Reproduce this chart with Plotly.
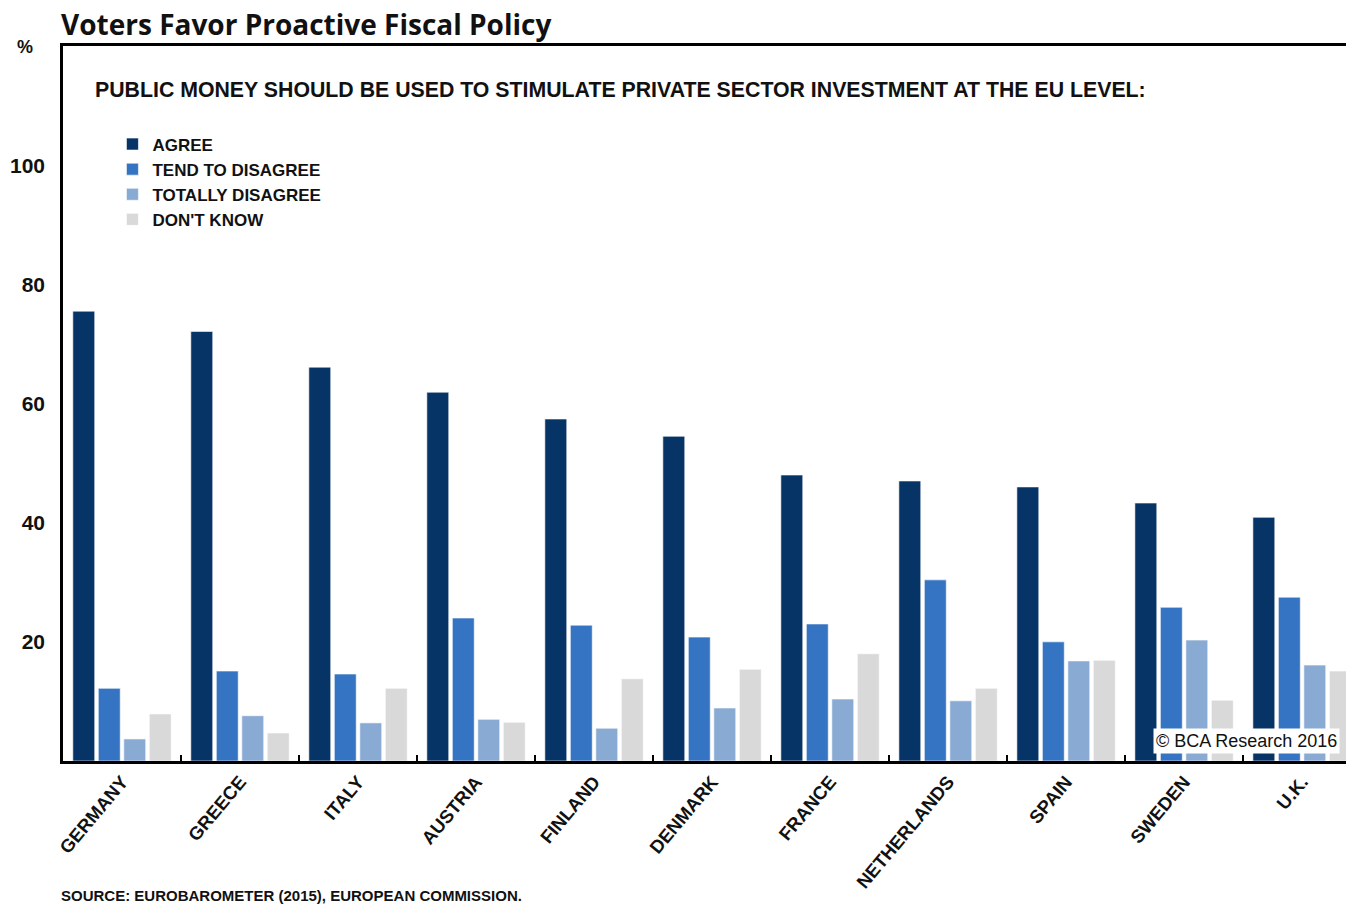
import plotly.graph_objects as go

countries = ["GERMANY", "GREECE", "ITALY", "AUSTRIA", "FINLAND", "DENMARK",
             "FRANCE", "NETHERLANDS", "SPAIN", "SWEDEN", "U.K."]
agree = [75.5, 72.1, 66.1, 61.9, 57.4, 54.5, 48.0, 47.0, 46.0, 43.3, 40.9]
tend_to_disagree = [12.2, 15.1, 14.6, 24.0, 22.8, 20.8, 23.0, 30.4, 20.0, 25.8, 27.5]
totally_disagree = [3.7, 7.6, 6.4, 7.0, 5.5, 8.9, 10.4, 10.1, 16.8, 20.3, 16.1]
dont_know = [7.9, 4.7, 12.2, 6.5, 13.8, 15.4, 18.0, 12.2, 16.9, 10.2, 15.1]

series = [
    ("AGREE", agree, "#073466"),
    ("TEND TO DISAGREE", tend_to_disagree, "#3574c2"),
    ("TOTALLY DISAGREE", totally_disagree, "#88aad3"),
    ("DON'T KNOW", dont_know, "#d9d9d9"),
]

BOLD = "Liberation Sans"

fig = go.Figure()
for name, vals, color in series:
    fig.add_trace(go.Bar(
        x=countries, y=vals, name=name,
        marker=dict(color=color, line=dict(color="rgba(255,255,255,0.6)", width=1)),
    ))

fig.update_layout(
    width=1346, height=896,
    margin=dict(l=55, r=0, t=38, b=143),
    paper_bgcolor="white", plot_bgcolor="white",
    barmode="group", bargap=0.136, bargroupgap=0.14,
    showlegend=True,
    legend=dict(
        x=0.0383, y=0.8874, xanchor="left", yanchor="top",
        font=dict(family=BOLD, size=17, color="#111111", weight="bold"),
        bgcolor="rgba(0,0,0,0)", tracegroupgap=0, itemwidth=30,
    ),
    font=dict(family=BOLD, color="#111111"),
)

fig.update_xaxes(
    type="category", range=[-0.5, 10.44],
    showline=True, linecolor="black", linewidth=2.5, mirror=True,
    ticks="inside", tickson="boundaries", ticklen=6, tickwidth=2, tickcolor="black",
    tickangle=-50,
    tickfont=dict(family=BOLD, size=18.5, color="#111111", weight="bold"),
    showgrid=False,
)
fig.update_yaxes(
    range=[0, 120], tickvals=[20, 40, 60, 80, 100],
    showline=True, linecolor="black", linewidth=2.5,
    ticks="", showgrid=False, zeroline=False,
    ticklabelstandoff=11,
    tickfont=dict(family=BOLD, size=21, color="#111111", weight="bold"),
)

fig.add_annotation(text="Voters Favor Proactive Fiscal Policy",
                   xref="paper", yref="paper", x=-0.0023, y=1.031,
                   xanchor="left", yanchor="middle", showarrow=False, borderpad=0,
                   font=dict(family="Open Sans", size=28,
                             color="#111111", weight="bold"))
fig.add_annotation(text="%", xref="paper", yref="paper", x=-0.0217, y=0.9986,
                   xanchor="right", yanchor="middle", showarrow=False,
                   font=dict(family=BOLD, size=18, color="#111111", weight="bold"))
fig.add_annotation(text="PUBLIC MONEY SHOULD BE USED TO STIMULATE PRIVATE SECTOR INVESTMENT AT THE EU LEVEL:",
                   xref="paper", yref="paper", x=0.0233, y=0.9385,
                   xanchor="left", yanchor="middle", showarrow=False,
                   font=dict(family=BOLD, size=21.3, color="#111111", weight="bold"))
fig.add_annotation(text="SOURCE: EUROBAROMETER (2015), EUROPEAN COMMISSION.",
                   xref="paper", yref="paper", x=-0.0023, y=-0.1885,
                   xanchor="left", yanchor="middle", showarrow=False, borderpad=0,
                   font=dict(family=BOLD, size=15, color="#111111", weight="bold"))
fig.add_annotation(text="© BCA Research 2016",
                   xref="paper", yref="paper", x=0.989, y=0.028,
                   xanchor="right", yanchor="middle", showarrow=False,
                   bgcolor="white", borderpad=2,
                   font=dict(family="Liberation Sans", size=18, color="#111111"))

fig.write_html("out.html")
